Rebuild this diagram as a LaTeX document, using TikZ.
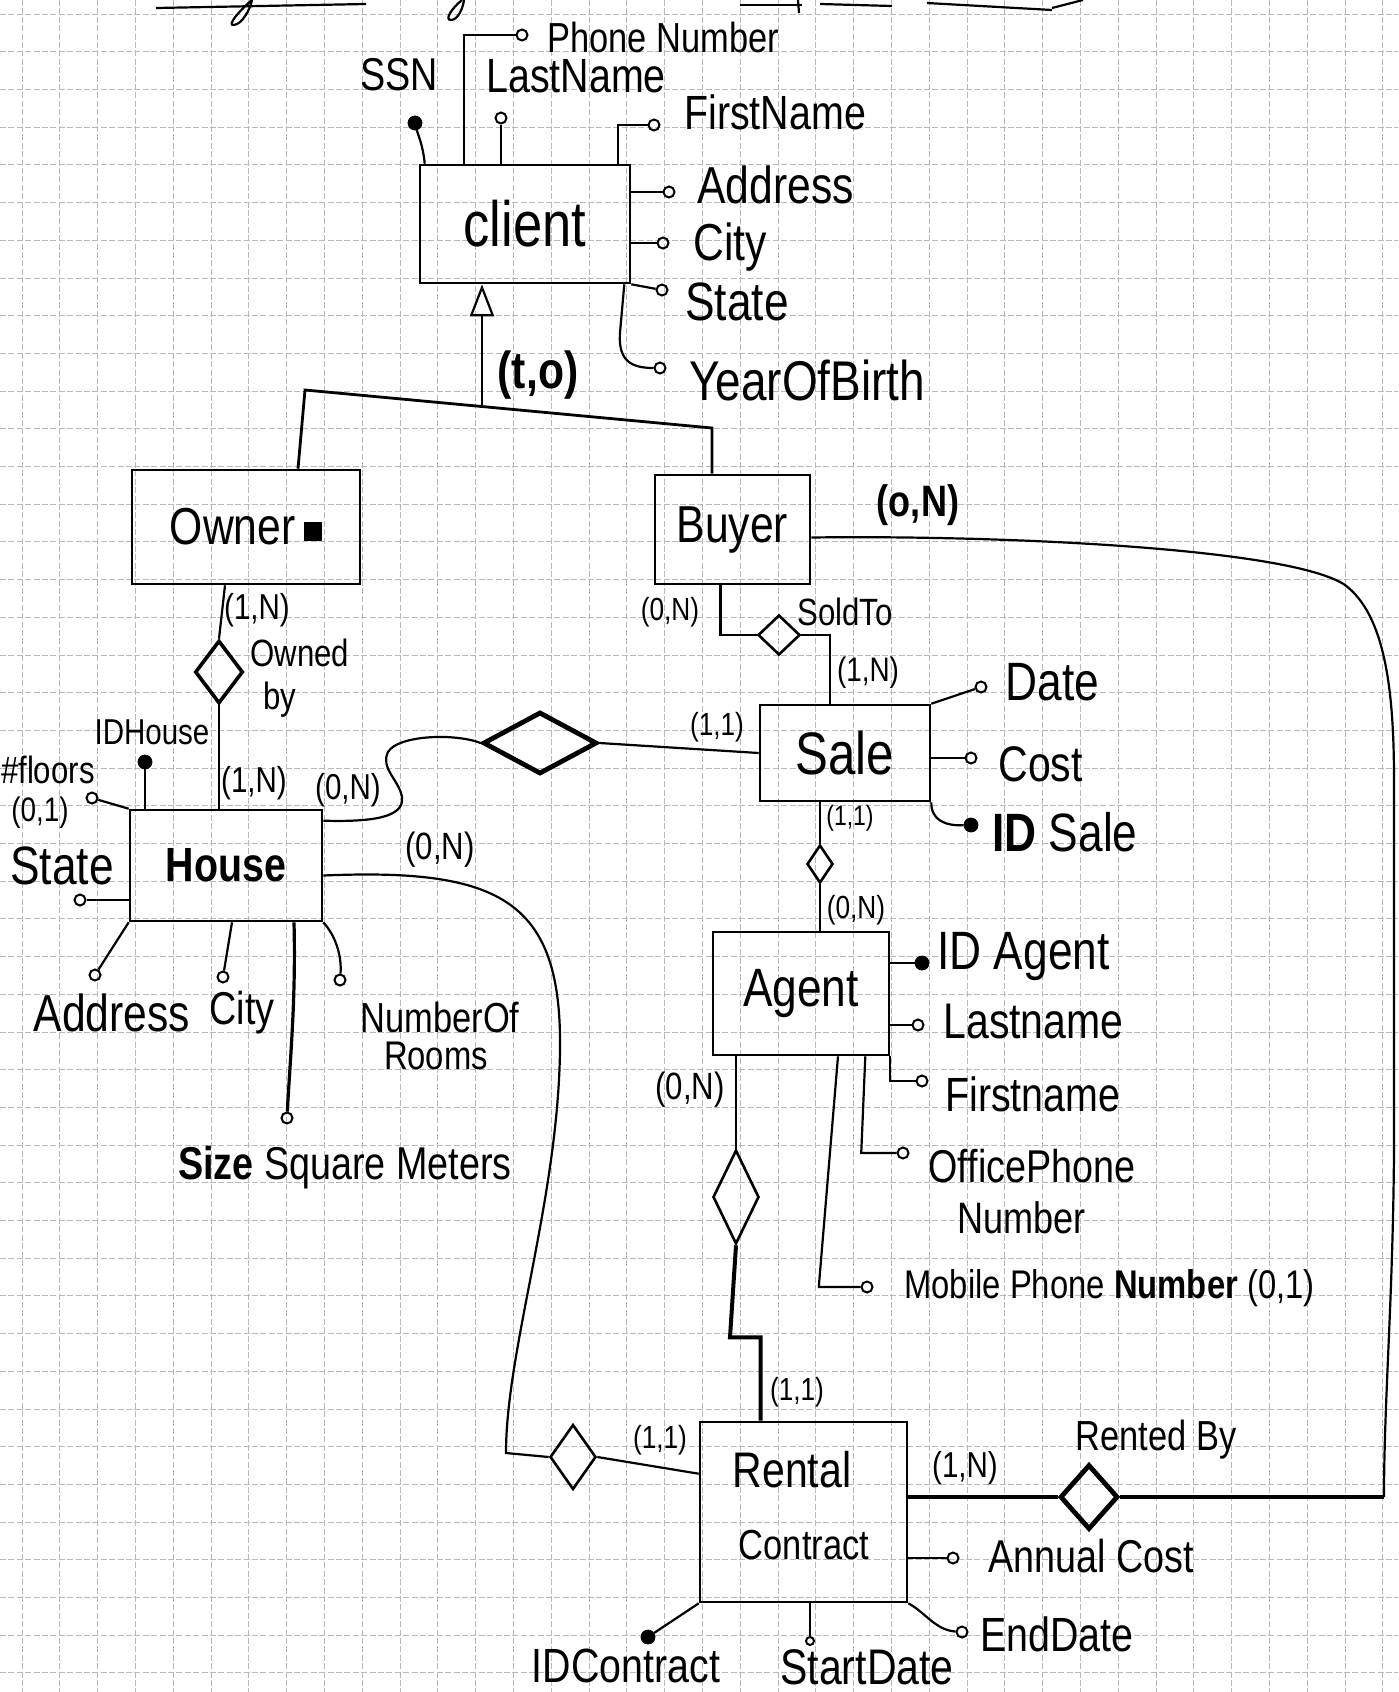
\documentclass[tikz,border=0pt]{standalone}
\usepackage{fontspec}
\setmainfont{Liberation Sans}[FakeStretch=0.82]
\usetikzlibrary{shapes.geometric,arrows.meta,calc}
\newcommand{\fsz}[1]{\fontsize{#1}{#1}\selectfont}
\begin{document}
\begin{tikzpicture}[x=0.5pt,y=-0.5pt,
  ent/.style={draw,line width=1.3pt,inner sep=0pt},
  attr/.style={circle,draw,line width=1pt,inner sep=0pt,minimum size=5.5pt},
  keyattr/.style={circle,draw,fill=black,inner sep=0pt,minimum size=7pt},
  rel/.style={diamond,draw,line width=1.8pt,inner sep=0pt},
  lbl/.style={inner sep=0pt},
  conn/.style={line width=1.1pt},
  grd/.style={gray!55,line width=0.35pt,dash pattern=on 3pt off 1.2pt}]
\fill[white] (0,0) rectangle (1398,1692);
\useasboundingbox (0,0) rectangle (1398,1692);
% graph paper
\foreach \i in {0,...,36} \draw[grd] ({22+37.8*\i},0) -- ({22+37.8*\i},1692);
\foreach \j in {0,...,44} \draw[grd] (0,{14+37.7*\j}) -- (1398,{14+37.7*\j});
% cut-off strokes at the top edge
\draw[conn] (156,8) -- (366,4);
\draw[conn] (252,0) .. controls (240,10) and (226,26) .. (234,25) .. controls (242,24) and (250,10) .. (252,0);
\draw[conn] (462,0) .. controls (452,8) and (444,20) .. (451,20) .. controls (458,20) and (463,8) .. (464,0);
\draw[conn] (740,5) -- (802,5);
\draw[conn] (798,0) -- (799,13);
\draw[conn] (820,4) -- (892,6);
\draw[conn] (927,3) -- (1052,10);
\draw[conn] (1052,8) -- (1083,0);

% entities
\node[ent,minimum width=105pt,minimum height=59pt,font=\fsz{32}] (client) at (525,224) {client};
\node[ent,minimum width=114pt,minimum height=57pt,font=\fsz{26}] (owner) at (246,527) {Owner\,\rule[2pt]{9pt}{9.5pt}};
\node[ent,minimum width=77.5pt,minimum height=54.5pt,font=\fsz{26}] (buyer) at (732.5,529.5) {Buyer};
\node[ent,minimum width=85pt,minimum height=48pt,font=\fsz{30}] (sale) at (845,753) {Sale};
\node[ent,minimum width=96pt,minimum height=55.5pt,font=\bfseries\fsz{24}] (house) at (226,865.5) {House};
\node[ent,minimum width=88pt,minimum height=61.5pt,font=\fsz{27}] (agent) at (801,993.5) {Agent};
\node[ent,minimum width=103.5pt,minimum height=90pt] (rental) at (803.5,1512) {};
\node[lbl,font=\fsz{25}] (tRental) at (792,1470) {Rental};
\node[lbl,font=\fsz{21}] (tContract) at (804,1545) {Contract};

% relationships
\node[rel,minimum width=24pt,minimum height=31.5pt] (ownedby) at (219,672) {};
\node[rel,line width=2.4pt,minimum width=57pt,minimum height=31pt] (hs) at (540,743) {};
\node[rel,line width=1.3pt,minimum width=21pt,minimum height=20pt] (soldto) at (779,635) {};
\node[rel,line width=1.3pt,minimum width=13pt,minimum height=19pt] (sa) at (820,864) {};
\node[rel,line width=1.3pt,minimum width=23pt,minimum height=47pt] (ar) at (736,1197) {};
\node[rel,line width=1.3pt,minimum width=23pt,minimum height=32.5pt] (hr) at (573,1457) {};
\node[rel,line width=2.4pt,minimum width=29pt,minimum height=32.5pt] (rentedby) at (1089,1497) {};

% client attributes
\node[keyattr] (aSSN) at (415,123) {};
\node[attr] (aPhone) at (522,35) {};
\node[attr] (aLast) at (501,118) {};
\node[attr] (aFirst) at (654,125) {};
\node[attr] (aAddr) at (669,192) {};
\node[attr] (aCity) at (663,243) {};
\node[attr] (aState) at (662,290) {};
\node[attr] (aYear) at (660,368) {};
\draw[conn] (client.north west) ++(6,0) .. controls (423,145) and (418,135) .. (aSSN);
\draw[conn] (client.north west) ++(45,0) |- (aPhone);
\draw[conn] (aLast) -- (aLast |- client.north);
\draw[conn] (client.north east) ++(-13,0) |- (aFirst);
\draw[conn] (aAddr -| client.east) -- (aAddr);
\draw[conn] (aCity -| client.east) -- (aCity);
\draw[conn] (client.south east) -- (aState);
\draw[conn] (client.south east) ++(-7,0) -- ++(-4,45) .. controls (617,360) and (630,368) .. (aYear);
\node[lbl,font=\fsz{23}] (lSSN) at (399,75) {SSN};
\node[lbl,font=\fsz{21},anchor=west] (lPhone) at (547,37) {Phone Number};
\node[lbl,font=\fsz{24},anchor=west] (lLast) at (486,76) {LastName};
\node[lbl,font=\fsz{24},anchor=west] (lFirst) at (684,112) {FirstName};
\node[lbl,font=\fsz{26},anchor=west] (lAddr) at (697,185) {Address};
\node[lbl,font=\fsz{26},anchor=west] (lCity) at (693,247) {City};
\node[lbl,font=\fsz{27},anchor=west] (lState) at (685,302) {State};
\node[lbl,font=\fsz{28},anchor=west] (lYear) at (689,380) {YearOfBirth};

% generalisation
\coordinate (hL) at (305,390);
\coordinate (hR) at (712,428);
\coordinate (hA) at (482,407);
\draw[conn,line width=1.4pt] (owner.north) ++(52,0) -- (hL) -- (hR) -- (hR |- buyer.north);
\draw[conn,-{Triangle[open,length=16pt,width=12pt,line width=1.1pt]}] (hA) -- (hA |- client.south);
\node[lbl,font=\bfseries\fsz{26}] (lTO) at (538,375) {(t,o)};

% owner - owned by - house
\draw[conn] (owner.south) ++(-21,0) -- (ownedby.north);
\draw[conn] (ownedby.south) -- (ownedby.south |- house.north);
\node[lbl,font=\fsz{18}] (lOb1) at (257,610) {(1,N)};
\node[lbl,font=\fsz{19},anchor=west] (lOwned) at (250,653) {Owned};
\node[lbl,font=\fsz{19},anchor=west] (lBy) at (263,700) {by};
\node[lbl,font=\fsz{18}] (lOb2) at (254,783) {(1,N)};

% house attributes
\node[keyattr] (aIDH) at (145,762) {};
\node[attr] (aFloors) at (92,798) {};
\node[attr] (aHState) at (80,900) {};
\node[attr] (aHAddr) at (95,975) {};
\node[attr] (aHCity) at (223,977) {};
\node[attr] (aSize) at (287,1118) {};
\node[attr] (aRooms) at (340,980) {};
\draw[conn] (aIDH) -- (aIDH |- house.north);
\draw[conn] (aFloors) -- (house.north west);
\draw[conn] (aHState) -- (aHState -| house.west);
\draw[conn] (aHAddr) -- (house.south west);
\draw[conn] (house.south) ++(6,0) -- (aHCity);
\draw[conn,line width=1.6pt] (house.south) ++(68,0) .. controls (296,1000) and (290,1060) .. (aSize);
\draw[conn] (house.south east) .. controls (335,935) and (342,955) .. (aRooms);
\node[lbl,font=\fsz{18}] (lIDH) at (152,732) {IDHouse};
\node[lbl,font=\fsz{19},anchor=east] (lFloors) at (95,770) {\#floors};
\node[lbl,font=\fsz{17}] (lFl01) at (40,813) {(0,1)};
\node[lbl,font=\fsz{27}] (lHState) at (62,866) {State};
\node[lbl,font=\fsz{26}] (lHAddr) at (112,1013) {Address};
\node[lbl,font=\fsz{23}] (lHCity) at (242,1013) {City};
\node[lbl,font=\fsz{21}] (lNumOf) at (440,1017) {NumberOf};
\node[lbl,font=\fsz{20}] (lRooms) at (436,1056) {Rooms};
\node[lbl,font=\fsz{23}] (lSize) at (345,1168) {\textbf{Size} Square Meters};

% house - sale
\draw[conn] (house.north east) ++(0,12) .. controls (370,822) and (405,818) .. (402,797) .. controls (399,780) and (380,768) .. (388,752) .. controls (398,735) and (455,733) .. (hs.west);
\draw[conn] (hs.east) -- (sale.west);
\node[lbl,font=\fsz{18}] (lHs1) at (348,790) {(0,N)};
\node[lbl,font=\fsz{16}] (lHs2) at (717,727) {(1,1)};

% house - rental contract
\draw[conn] (house.east) ++(0,10) .. controls (500,868) and (562,900) .. (560,1050) .. controls (558,1200) and (506,1350) .. (506,1453) -- (hr.west);
\draw[conn] (hr.east) -- ($(rental.north west)+(0,53)$);
\node[lbl,font=\fsz{19}] (lHr1) at (440,850) {(0,N)};
\node[lbl,font=\fsz{16}] (lHr2) at (660,1440) {(1,1)};

% buyer - rented by
\coordinate (rbc) at (1384,1497);
\draw[conn] (buyer.east) ++(0,8) .. controls (1000,535) and (1290,548) .. (1345,585) .. controls (1385,615) and (1394,690) .. (1394,780) -- (1394,1150) .. controls (1393,1300) and (1384,1400) .. (rbc);
\draw[conn,line width=2pt] (rbc) -- (rentedby.east);
\draw[conn,line width=2.2pt] (rentedby.west) -- (rental.east |- rentedby.west);
\node[lbl,font=\bfseries\fsz{22}] (lBr1) at (918,505) {(o,N)};
\node[lbl,font=\fsz{18}] (lBr2) at (965,1468) {(1,N)};
\node[lbl,font=\fsz{21}] (lRentedBy) at (1156,1440) {Rented By};

% buyer - sold to - sale
\draw[conn] (buyer.south) ++(-12,0) |- (soldto.west);
\draw[conn] (soldto.east) -| ($(sale.north)+(-15,0)$);
\node[lbl,font=\fsz{16}] (lSt1) at (670,612) {(0,N)};
\node[lbl,font=\fsz{19}] (lSoldTo) at (845,612) {SoldTo};
\node[lbl,font=\fsz{17}] (lSt2) at (868,673) {(1,N)};

% sale attributes
\node[attr] (aDate) at (981,687) {};
\node[attr] (aCost) at (971,758) {};
\node[keyattr] (aIDS) at (971,825) {};
\draw[conn] (sale.north east) -- (aDate);
\draw[conn] (aCost -| sale.east) -- (aCost);
\draw[conn] (sale.south east) .. controls (931,820) and (945,826) .. (aIDS);
\node[lbl,font=\fsz{27},anchor=west] (lDate) at (1005,682) {Date};
\node[lbl,font=\fsz{25},anchor=west] (lCost) at (998,764) {Cost};
\node[lbl,font=\fsz{27},anchor=west] (lIDS) at (992,832) {\textbf{ID} Sale};

% sale - agent
\draw[conn] (sa.north) -- (sa.north |- sale.south);
\draw[conn] (sa.south) -- (sa.south |- agent.north);
\node[lbl,font=\fsz{14}] (lSa1) at (850,818) {(1,1)};
\node[lbl,font=\fsz{16}] (lSa2) at (856,910) {(0,N)};

% agent attributes
\node[keyattr] (aIDA) at (922,963) {};
\node[attr] (aLastA) at (918,1025) {};
\node[attr] (aFirstA) at (922,1081) {};
\node[attr] (aOffice) at (903,1153) {};
\node[attr] (aMobile) at (867,1287) {};
\draw[conn] (aIDA -| agent.east) -- (aIDA);
\draw[conn] (aLastA -| agent.east) -- (aLastA);
\draw[conn] (agent.south east) |- (aFirstA);
\draw[conn] (agent.south east) ++(-25,0) -- ++(-4,95) |- (aOffice);
\draw[conn] (agent.south) ++(37,0) -- ++(-19,228) |- (aMobile);
\node[lbl,font=\fsz{27},anchor=west] (lIDA) at (937,957) {ID Agent};
\node[lbl,font=\fsz{25},anchor=west] (lLastA) at (943,1022) {Lastname};
\node[lbl,font=\fsz{24},anchor=west] (lFirstA) at (945,1094) {Firstname};
\node[lbl,font=\fsz{23},anchor=west] (lOffice) at (928,1166) {OfficePhone};
\node[lbl,font=\fsz{22},anchor=west] (lOffice2) at (957,1218) {Number};
\node[lbl,font=\fsz{20},anchor=west] (lMobile) at (904,1288) {Mobile Phone \textbf{Number} (0,1)};

% agent - rental contract
\draw[conn] (ar.north) -- (ar.north |- agent.south);
\draw[conn,line width=2pt] (ar.south) -- ++(-6,92) -| ($(rental.north)+(-43,0)$);
\node[lbl,font=\fsz{19}] (lAr1) at (690,1090) {(0,N)};
\node[lbl,font=\fsz{16}] (lAr2) at (797,1392) {(1,1)};

% rental contract attributes
\node[attr] (aAnnual) at (953,1558) {};
\node[attr] (aEnd) at (962,1632) {};
\node[attr,minimum size=4pt] (aStart) at (810,1641) {};
\node[keyattr] (aIDC) at (648,1637) {};
\draw[conn] (aAnnual -| rental.east) -- (aAnnual);
\draw[conn] (rental.south east) .. controls (925,1612) and (935,1630) .. (aEnd);
\draw[conn] (aStart) -- (aStart |- rental.south);
\draw[conn] (rental.south west) -- (aIDC);
\node[lbl,font=\fsz{23},anchor=west] (lAnnual) at (988,1556) {Annual Cost};
\node[lbl,font=\fsz{24},anchor=west] (lEnd) at (980,1634) {EndDate};
\node[lbl,font=\fsz{25},anchor=base,text depth=0pt] (lStart) at (867,1684) {StartDate};
\node[lbl,font=\fsz{24},anchor=base,text depth=0pt] (lIDC) at (626,1682) {IDContract};
\end{tikzpicture}
\end{document}
